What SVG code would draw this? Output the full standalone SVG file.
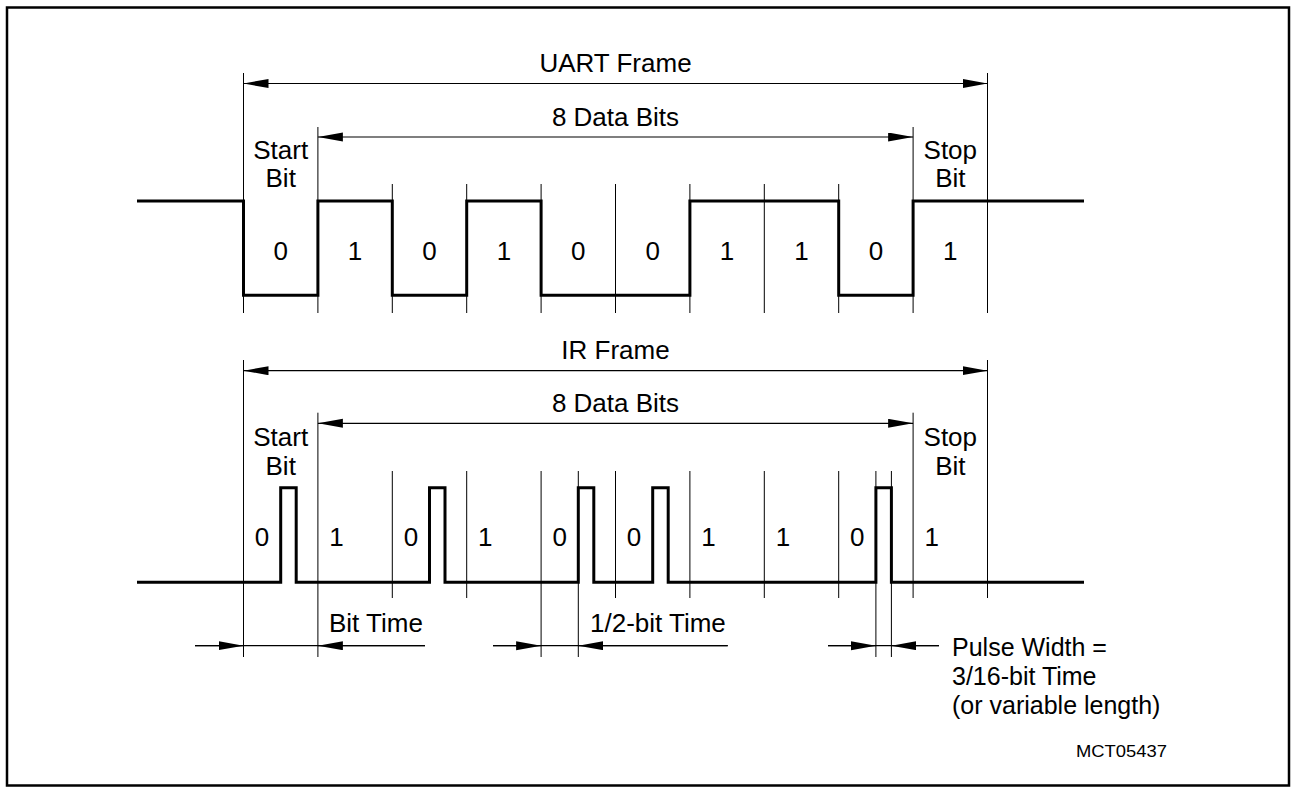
<svg xmlns="http://www.w3.org/2000/svg" width="1297" height="793" viewBox="0 0 1297 793">
  <style>
    .t { font-family: "Liberation Sans", Arial, sans-serif; font-size: 26px; fill: #000; }
    .c { text-anchor: middle; }
    .thin { stroke: #000; stroke-width: 1; fill: none; }
    .sig { stroke: #000; stroke-width: 3; fill: none; stroke-linejoin: miter; }
    .dim { stroke: #000; stroke-width: 1.2; fill: none; }
    .note { font-size: 25px; }
  </style>
  <defs>
    <marker id="ah" markerUnits="userSpaceOnUse" markerWidth="26" markerHeight="10" refX="25" refY="4.5" orient="auto-start-reverse">
      <path d="M0,0 L25,4.5 L0,9 z" fill="#000"/>
    </marker>
  </defs>
  <rect x="7" y="7.5" width="1282" height="778" fill="#fff" stroke="#000" stroke-width="2.5"/>

  <g id="uart">
    <g id="uart-extension-lines" class="thin">
      <line x1="243.5" y1="73" x2="243.5" y2="313"/>
      <line x1="317.9" y1="127" x2="317.9" y2="313"/>
      <line x1="392.3" y1="184" x2="392.3" y2="313"/>
      <line x1="466.7" y1="184" x2="466.7" y2="313"/>
      <line x1="541.1" y1="184" x2="541.1" y2="313"/>
      <line x1="615.5" y1="184" x2="615.5" y2="313"/>
      <line x1="689.9" y1="184" x2="689.9" y2="313"/>
      <line x1="764.3" y1="184" x2="764.3" y2="313"/>
      <line x1="838.7" y1="184" x2="838.7" y2="313"/>
      <line x1="913.1" y1="127" x2="913.1" y2="313"/>
      <line x1="987.5" y1="73" x2="987.5" y2="313"/>
    </g>
    <g id="uart-dimensions" class="dim">
      <line x1="243.5" y1="83.5" x2="987.5" y2="83.5" marker-start="url(#ah)" marker-end="url(#ah)"/>
      <line x1="317.9" y1="137" x2="913.1" y2="137" marker-start="url(#ah)" marker-end="url(#ah)"/>
    </g>
    <text class="t c" x="615.5" y="72">UART Frame</text>
    <text class="t c" x="615.5" y="126">8 Data Bits</text>
    <text class="t c" x="280.7" y="159">Start</text>
    <text class="t c" x="280.7" y="187">Bit</text>
    <text class="t c" x="950.3" y="159">Stop</text>
    <text class="t c" x="950.3" y="187">Bit</text>
    <path id="uart-signal" class="sig" d="M137,201 H243.5 V295.3 H317.9 V201 H392.3 V295.3 H466.7 V201 H541.1 V295.3 H689.9 V201 H838.7 V295.3 H913.1 V201 H1084"/>
    <g id="uart-bits">
      <text class="t c" x="280.7" y="260">0</text>
      <text class="t c" x="355.1" y="260">1</text>
      <text class="t c" x="429.5" y="260">0</text>
      <text class="t c" x="503.9" y="260">1</text>
      <text class="t c" x="578.3" y="260">0</text>
      <text class="t c" x="652.7" y="260">0</text>
      <text class="t c" x="727.1" y="260">1</text>
      <text class="t c" x="801.5" y="260">1</text>
      <text class="t c" x="875.9" y="260">0</text>
      <text class="t c" x="950.3" y="260">1</text>
    </g>
  </g>

  <g id="ir">
    <g id="ir-extension-lines" class="thin">
      <line x1="243.5" y1="360" x2="243.5" y2="657"/>
      <line x1="317.9" y1="412.7" x2="317.9" y2="657"/>
      <line x1="392.3" y1="471" x2="392.3" y2="598"/>
      <line x1="466.7" y1="471" x2="466.7" y2="598"/>
      <line x1="541.1" y1="471" x2="541.1" y2="657"/>
      <line x1="578.3" y1="471" x2="578.3" y2="657"/>
      <line x1="615.5" y1="471" x2="615.5" y2="598"/>
      <line x1="689.9" y1="471" x2="689.9" y2="598"/>
      <line x1="764.3" y1="471" x2="764.3" y2="598"/>
      <line x1="838.7" y1="471" x2="838.7" y2="598"/>
      <line x1="875.9" y1="471" x2="875.9" y2="657"/>
      <line x1="891.4" y1="471" x2="891.4" y2="657"/>
      <line x1="913.1" y1="412.7" x2="913.1" y2="598"/>
      <line x1="987.5" y1="360" x2="987.5" y2="598"/>
    </g>
    <g id="ir-dimensions" class="dim">
      <line x1="243.5" y1="370.7" x2="987.5" y2="370.7" marker-start="url(#ah)" marker-end="url(#ah)"/>
      <line x1="317.9" y1="423.3" x2="913.1" y2="423.3" marker-start="url(#ah)" marker-end="url(#ah)"/>
    </g>
    <text class="t c" x="615.5" y="359">IR Frame</text>
    <text class="t c" x="615.5" y="412">8 Data Bits</text>
    <text class="t c" x="280.7" y="446">Start</text>
    <text class="t c" x="280.7" y="475">Bit</text>
    <text class="t c" x="950.3" y="446">Stop</text>
    <text class="t c" x="950.3" y="475">Bit</text>
    <path id="ir-signal" class="sig" d="M137,582.3 H280.7 V487.7 H296.2 V582.3 H429.5 V487.7 H445 V582.3 H578.3 V487.7 H593.8 V582.3 H652.7 V487.7 H668.2 V582.3 H875.9 V487.7 H891.4 V582.3 H1084"/>
    <g id="ir-bits">
      <text class="t c" x="262.1" y="545.7">0</text>
      <text class="t c" x="336.5" y="545.7">1</text>
      <text class="t c" x="410.9" y="545.7">0</text>
      <text class="t c" x="485.3" y="545.7">1</text>
      <text class="t c" x="559.7" y="545.7">0</text>
      <text class="t c" x="634.1" y="545.7">0</text>
      <text class="t c" x="708.5" y="545.7">1</text>
      <text class="t c" x="782.9" y="545.7">1</text>
      <text class="t c" x="857.3" y="545.7">0</text>
      <text class="t c" x="931.7" y="545.7">1</text>
    </g>
  </g>

  <g id="connectors" class="dim">
    <line x1="195" y1="645.7" x2="425" y2="645.7"/>
    <line x1="195" y1="645.7" x2="243.5" y2="645.7" marker-end="url(#ah)"/>
    <line x1="425" y1="645.7" x2="317.9" y2="645.7" marker-end="url(#ah)"/>
    <line x1="493" y1="645.7" x2="727.7" y2="645.7"/>
    <line x1="493" y1="645.7" x2="541.1" y2="645.7" marker-end="url(#ah)"/>
    <line x1="727.7" y1="645.7" x2="578.3" y2="645.7" marker-end="url(#ah)"/>
    <line x1="828" y1="645.7" x2="939" y2="645.7"/>
    <line x1="828" y1="645.7" x2="875.9" y2="645.7" marker-end="url(#ah)"/>
    <line x1="939" y1="645.7" x2="891.4" y2="645.7" marker-end="url(#ah)"/>
  </g>

  <g id="labels">
    <text class="t" x="329" y="632">Bit Time</text>
    <text class="t" x="590" y="632">1/2-bit Time</text>
    <text class="t note" x="952" y="655.5">Pulse Width =</text>
    <text class="t note" x="952" y="685">3/16-bit Time</text>
    <text class="t note" x="952" y="714">(or variable length)</text>
    <text class="t" x="1167" y="757" text-anchor="end" style="font-size:17px" textLength="91" lengthAdjust="spacingAndGlyphs">MCT05437</text>
  </g>
</svg>
